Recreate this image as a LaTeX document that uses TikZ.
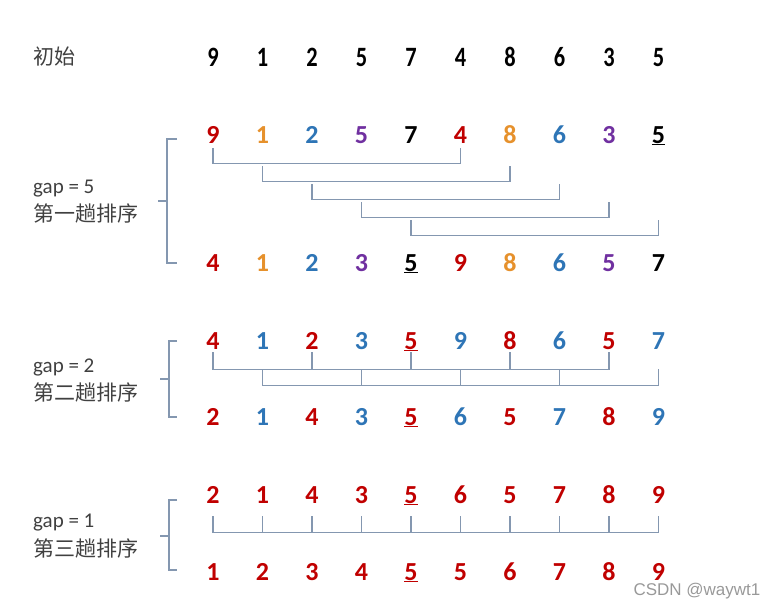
\documentclass[tikz,border=0pt]{standalone}
\usepackage{fontspec}
\usepackage{xcolor}
\setmainfont{Carlito}
\newfontfamily\cjk{Noto Sans CJK SC}
\newfontfamily\initfont{Carlito}[FakeStretch=0.8]
\newfontfamily\markfont{Liberation Sans}

\definecolor{numred}{HTML}{C00000}
\definecolor{numorange}{HTML}{E6912C}
\definecolor{numblue}{HTML}{2E75B6}
\definecolor{numpurple}{HTML}{7030A0}
\definecolor{linegray}{HTML}{8497B0}
\definecolor{labelgray}{HTML}{404040}

\tikzset{
  num/.style={anchor=base,inner sep=0pt,text depth=0pt,font=\fontsize{26}{26}\selectfont\bfseries},
  initnum/.style={anchor=base,inner sep=0pt,text depth=0pt,font=\fontsize{28}{28}\selectfont\initfont\bfseries},
  label/.style={anchor=west,inner sep=0pt,text=labelgray,font=\fontsize{21}{24}\selectfont},
  link/.style={draw=linegray,line width=1.3pt},
  bracket/.style={draw=linegray,line width=1.1pt}
}

\begin{document}
\begin{tikzpicture}[x=1pt,y=-1pt]
  \useasboundingbox (0,0) rectangle (780,611);

  % labels
  \node[label] (init) at (33,57) {\cjk 初始};
  \node[label] (gap5) at (33,189) {gap = 5};
  \node[label] (pass1) at (33,213) {\cjk 第一趟排序};
  \node[label] (gap2) at (33,367) {gap = 2};
  \node[label] (pass2) at (33,392) {\cjk 第二趟排序};
  \node[label] (gap1) at (33,523) {gap = 1};
  \node[label] (pass3) at (33,548) {\cjk 第三趟排序};

  % initial row
  \foreach \n [count=\i] in {9,1,2,5,7,4,8,6,3,5}
    \node[initnum] (i\i) at ({213+49.5*(\i-1)},66) {\n};

  % gap = 5
  \foreach \n/\c [count=\i] in {9/numred,1/numorange,2/numblue,5/numpurple,7/black,
      4/numred,8/numorange,6/numblue,3/numpurple,\underline{5}/black}
    \node[num,text=\c] (fa\i) at ({213+49.5*(\i-1)},143) {\n};
  \foreach \n/\c [count=\i] in {4/numred,1/numorange,2/numblue,3/numpurple,\underline{5}/black,
      9/numred,8/numorange,6/numblue,5/numpurple,7/black}
    \node[num,text=\c] (fb\i) at ({213+49.5*(\i-1)},271) {\n};

  \foreach \from/\to [count=\k] in {1/6,2/7,3/8,4/9,5/10}{
    \pgfmathsetmacro\off{5+18*(\k-1)}
    \draw[link] ([yshift=-\off pt]fa\from.south) -- ++(0,-15pt) -| ([yshift=-\off pt]fa\to.south);
  }

  % gap = 2
  \foreach \n/\c [count=\i] in {4/numred,1/numblue,2/numred,3/numblue,\underline{5}/numred,
      9/numblue,8/numred,6/numblue,5/numred,7/numblue}
    \node[num,text=\c] (ta\i) at ({213+49.5*(\i-1)},349) {\n};
  \foreach \n/\c [count=\i] in {2/numred,1/numblue,4/numred,3/numblue,\underline{5}/numred,
      6/numblue,5/numred,7/numblue,8/numred,9/numblue}
    \node[num,text=\c] (tb\i) at ({213+49.5*(\i-1)},425) {\n};

  \draw[link] ([yshift=-3pt]ta1.south) -- ++(0,-17pt) -| ([yshift=-3pt]ta9.south);
  \foreach \i in {3,5,7}
    \draw[link] ([yshift=-3pt]ta\i.south) -- ++(0,-17pt);
  \draw[link] ([yshift=-20pt]ta2.south) -- ++(0,-16pt) -| ([yshift=-20pt]ta10.south);
  \foreach \i in {4,6,8}
    \draw[link] ([yshift=-20pt]ta\i.south) -- ++(0,-16pt);

  % gap = 1
  \foreach \n [count=\i] in {2,1,4,3,\underline{5},6,5,7,8,9}
    \node[num,text=numred] (oa\i) at ({213+49.5*(\i-1)},503) {\n};
  \foreach \n [count=\i] in {1,2,3,4,\underline{5},5,6,7,8,9}
    \node[num,text=numred] (ob\i) at ({213+49.5*(\i-1)},580) {\n};

  \draw[link] ([yshift=-13pt]oa1.south) -- ++(0,-16pt) -| ([yshift=-13pt]oa10.south);
  \foreach \i in {2,...,9}
    \draw[link] ([yshift=-13pt]oa\i.south) -- ++(0,-16pt);

  % brackets
  \draw[bracket] (177,139) -- (167,139) -- (167,263) -- (177,263);
  \draw[bracket] (167,201) -- (158,201);
  \draw[bracket] (177,341) -- (169,341) -- (169,417) -- (177,417);
  \draw[bracket] (169,379) -- (160,379);
  \draw[bracket] (177,500) -- (169,500) -- (169,570) -- (177,570);
  \draw[bracket] (169,536) -- (160,536);

  % watermark
  \node[anchor=north,inner sep=0pt,text=gray!80,font=\fontsize{17}{17}\selectfont\markfont] (mark) at (697,583) {CSDN @waywt1};
\end{tikzpicture}
\end{document}
